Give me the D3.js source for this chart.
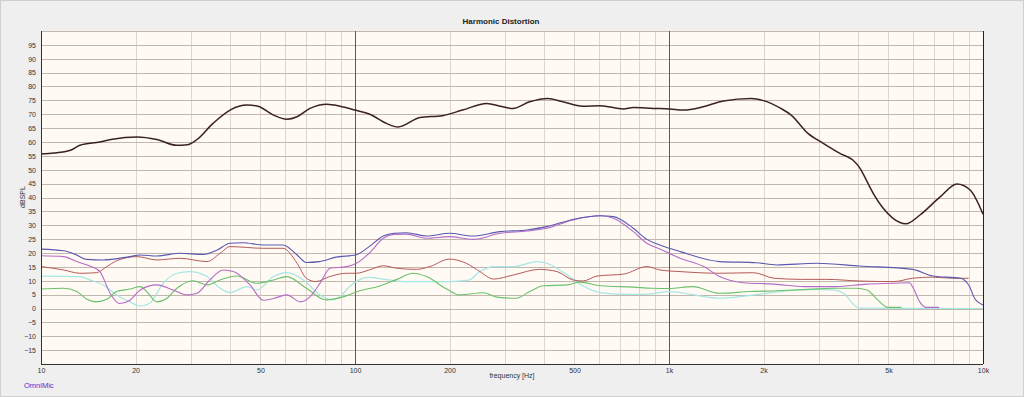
<!DOCTYPE html>
<html>
<head>
<meta charset="utf-8">
<script src="https://cdn.jsdelivr.net/npm/d3@7"></script>
<style>
  body { margin: 0; background: #efefef; }
  svg { display: block; font-family: "Liberation Sans", "DejaVu Sans", sans-serif; }
</style>
</head>
<body>
<svg width="1024" height="397"></svg>
<script>
// values: [frequency Hz, dBSPL]
const fundamental = [[10,55.7],[11,56],[12.4,57],[13.3,58.8],[15.4,60],[16.9,61],[20.2,61.8],[23.4,60.9],[27.1,58.8],[29.2,59],[31.4,60.9],[35.3,66.7],[40,71.5],[45.3,73.3],[48.8,73],[55,69.7],[60.7,68.2],[65.4,69.1],[71.9,72.1],[81.4,73.6],[89.6,72.9],[100,71.5],[111.5,70],[126,66.7],[137,65.4],[161,68.8],[190,69.5],[220,71.5],[263,73.9],[290,72.9],[318,72.1],[360,74.5],[411,75.7],[459,74.5],[531,72.9],[605,73.1],[715,71.9],[770,72.4],[890,72.1],[1005,71.9],[1110,71.5],[1285,72.7],[1490,74.8],[1830,75.7],[2000,74.9],[2270,72.1],[2450,69.7],[2770,63.1],[3100,59.5],[3500,55.9],[3850,53.5],[4060,50.5],[4275,45.7],[4470,41.5],[4810,36.1],[5170,32.5],[5680,30.5],[6300,33.7],[7300,40.2],[8260,44.9],[9100,42.7],[10000,34]]

const thd = [[10,21.4],[11.8,20.8],[12.8,19.6],[14,17.7],[15.8,17.5],[19.2,18.7],[20.7,19.3],[23.4,18.9],[27.7,19.9],[32.8,19.5],[36.4,21.1],[40,23.5],[44,23.7],[51,22.9],[59,22.9],[65.4,19.3],[70,16.6],[77,16.9],[87,18.5],[101,19.4],[111,22.3],[123,26.1],[133,27.1],[146,27.3],[169,26.1],[200,27.1],[237,26.1],[290,27.7],[353,28.3],[408,29.5],[494,32.1],[605,33.4],[665,33.1],[770,28.9],[850,24.9],[935,22.9],[1085,20.5],[1450,16.9],[1900,16.5],[2200,15.7],[2950,16.3],[4050,15.3],[5960,14.1],[6920,11.7],[8480,10.9],[9060,7.9],[9400,3.7],[10000,1.3]]

const h2 = [[10,19],[11.8,18.7],[13,16.9],[14.3,15.3],[15.4,13.3],[16.6,5.5],[17.8,1.8],[19.2,3],[20.7,6.7],[23.4,8.5],[26.3,6.7],[29.2,4.9],[31.4,5.5],[34.5,10.3],[38,13.9],[41,13.3],[46.3,8.5],[51,3],[55,3.6],[60.7,4.9],[67,2.4],[72,4.3],[77.4,9.1],[83.3,14.5],[94,15.1],[101,16.3],[111,19.9],[123,25.3],[133,26.7],[146,26.8],[169,25.3],[200,25.9],[237,24.9],[290,27.1],[353,27.9],[408,28.9],[494,31.9],[605,33.4],[665,32.5],[770,27.7],[850,23.5],[935,21.4],[1085,18.1],[1290,15.1],[1450,11.5],[1720,9.3],[2160,8.8],[2700,7.9],[3400,7.9],[4270,8.8],[5200,9.1],[5830,9.3],[6000,7.3],[6290,2.4],[6600,0.4],[7250,0.4]]

const h3 = [[10,15.1],[11.8,13.9],[13.3,12.7],[15,12.9],[16.2,15.1],[17.4,17.2],[20.2,18.7],[23.4,17.5],[27.7,18.1],[33.8,16.9],[37.2,19.9],[40,22.3],[51,21.7],[59,21.7],[65.4,16.3],[70,10.9],[75,9.7],[83,11.5],[94,12.7],[101,12.7],[111,13.9],[123,15.4],[136,14.5],[157,14.1],[173,15.1],[200,17.8],[226,16.3],[250,13.3],[276,10.6],[320,12.1],[387,14.1],[440,13.3],[494,10.3],[532,9.9],[590,11.7],[718,12.4],[850,15.1],[935,13.9],[1085,13.3],[1450,12.7],[1860,12.9],[2160,10.9],[2640,10.5],[3170,10.5],[4050,9.9],[5200,9.7],[5960,10.9],[6900,11.3],[8000,10.9],[9000,10.9]]

const h4 = [[10,11.7],[13.3,11.5],[14.3,10.3],[15.8,8.5],[17.4,4.9],[19.2,2.4],[20.7,0.9],[22.2,1.9],[24.5,9.1],[27.1,12.7],[29.8,13.3],[33.8,11.5],[37.2,7.3],[40,5.7],[45.3,7.9],[48.8,6.7],[55,11.5],[60.7,12.9],[68.5,10.3],[77.4,4.9],[85,3.1],[90,4.5],[96,7.9],[111,11.2],[123,10.6],[146,9.7],[200,9.7],[230,10.2],[250,13.3],[276,15.1],[320,15.1],[380,16.9],[408,16.3],[474,12.1],[520,8.8],[605,5.7],[718,5.1],[850,5.1],[1000,6.1],[1450,3.7],[1950,5.2],[2800,6.9],[3340,6.7],[3600,5.5],[3920,0.9],[4050,0.1],[10000,0]]

const h5 = [[10,7],[11.8,7.3],[13,6.1],[14,3.3],[15,2.4],[16.2,3.3],[17.4,6.1],[19.2,7],[20.7,7.9],[21.7,6.1],[23.4,2.4],[25.2,3.7],[27.1,7.3],[30.5,10],[33.8,8.5],[37.2,10.3],[42,11.7],[48.8,9.1],[55,10.3],[60.7,11.5],[70,7.3],[81,3.1],[91,4.1],[103.5,6.4],[120,8.1],[136,10.5],[153,12.7],[169,11.5],[196,7],[215,4.9],[257,5.7],[283,4.1],[326,3.7],[360,6.1],[398,8.2],[474,8.5],[520,9.5],[605,8.2],[770,7.7],[880,7.3],[1000,7.2],[1190,7.9],[1450,5.5],[1810,6.1],[2200,6.4],[2800,6.9],[3340,7.3],[3950,7.3],[4270,6.7],[4620,3.1],[4980,0.4],[5500,0.4]]

const xTickValues = [10, 20, 50, 100, 200, 500, 1000, 2000, 5000, 10000]
const xTickLabels = ['10', '20', '50', '100', '200', '500', '1k', '2k', '5k', '10k']
const yTickValues = d3.range(-15, 100, 5)

const svg = d3.select('svg')
const width = +svg.attr('width')
const height = +svg.attr('height')
const margin = {top: 31, right: 41, bottom: 33, left: 41}
const innerWidth = width - margin.left - margin.right
const innerHeight = height - margin.top - margin.bottom

svg.append('rect')
  .attr('x', 0.5).attr('y', 0.5)
  .attr('width', width - 1).attr('height', height - 1)
  .attr('fill', '#efefef')
  .attr('stroke', '#cfcfcf')

const x = d3.scaleLog().domain([10, 10000]).range([0, innerWidth])
const y = d3.scaleLinear().domain([-20, 100]).range([innerHeight, 0])

const g = svg.append('g')
  .attr('transform', `translate(${margin.left}, ${margin.top})`)

g.append('rect')
  .attr('width', innerWidth)
  .attr('height', innerHeight)
  .attr('fill', '#fffaf3')

// minor vertical grid (2..9 in every decade)
const minor = []
for (const dec of [10, 100, 1000]) {
  for (let k = 2; k <= 9; k++) minor.push(dec * k)
}
g.selectAll('.vminor')
  .data(minor)
  .join('line')
  .attr('x1', d => Math.round(x(d)) + 0.5)
  .attr('x2', d => Math.round(x(d)) + 0.5)
  .attr('y1', 0)
  .attr('y2', innerHeight)
  .attr('stroke', '#dcd6cf')
  .attr('stroke-width', 1)

// horizontal grid
g.selectAll('.hgrid')
  .data(d3.range(-15, 101, 5))
  .join('line')
  .attr('x1', 0)
  .attr('x2', innerWidth)
  .attr('y1', d => Math.round(y(d)) + 0.5)
  .attr('y2', d => Math.round(y(d)) + 0.5)
  .attr('stroke', '#c2b7ae')
  .attr('stroke-width', 1)

// decade lines
g.selectAll('.vmajor')
  .data([100, 1000])
  .join('line')
  .attr('x1', d => Math.round(x(d)) + 0.5)
  .attr('x2', d => Math.round(x(d)) + 0.5)
  .attr('y1', 0)
  .attr('y2', innerHeight)
  .attr('stroke', '#5a5a5a')
  .attr('stroke-width', 1)

const line = d3.line()
  .x(d => x(d[0]))
  .y(d => y(d[1]))
  .curve(d3.curveMonotoneX)

const series = [
  {data: h4, color: '#a6e6e4', w: 1.2},
  {data: h5, color: '#6cc16c', w: 1.1},
  {data: h3, color: '#b55a5a', w: 1},
  {data: h2, color: '#b46cc6', w: 1.1},
  {data: thd, color: '#5a58b0', w: 1.1},
  {data: fundamental, color: '#3b2222', w: 1.5}
]

g.selectAll('.curve')
  .data(series)
  .join('path')
  .attr('d', d => line(d.data))
  .attr('fill', 'none')
  .attr('stroke', d => d.color)
  .attr('stroke-width', d => d.w)
  .attr('stroke-linejoin', 'round')

// axes frame
g.append('line')
  .attr('x1', 0.5).attr('x2', 0.5).attr('y1', 0).attr('y2', innerHeight)
  .attr('stroke', '#333')
g.append('line')
  .attr('x1', innerWidth + 0.5).attr('x2', innerWidth + 0.5).attr('y1', 0).attr('y2', innerHeight)
  .attr('stroke', '#222')
g.append('line')
  .attr('x1', 0).attr('x2', innerWidth).attr('y1', innerHeight + 0.5).attr('y2', innerHeight + 0.5)
  .attr('stroke', '#333')

const xAxis = d3.axisBottom(x)
  .tickValues(xTickValues)
  .tickFormat((d, i) => xTickLabels[i])
  .tickSize(0)
  .tickPadding(4)
const xg = g.append('g')
  .attr('transform', `translate(0, ${innerHeight})`)
  .call(xAxis)
xg.select('.domain').remove()
xg.selectAll('text')
  .attr('font-size', 7)
  .attr('fill', '#333')
  .attr('font-family', '"Liberation Sans", sans-serif')

const yAxis = d3.axisLeft(y)
  .tickValues(yTickValues)
  .tickSize(0)
  .tickPadding(5)
const yg = g.append('g').call(yAxis)
yg.select('.domain').remove()
yg.selectAll('text')
  .attr('font-size', 7)
  .attr('fill', '#333')
  .attr('font-family', '"Liberation Sans", sans-serif')

svg.append('text')
  .attr('x', margin.left + innerWidth / 2 - 11)
  .attr('y', 24)
  .attr('text-anchor', 'middle')
  .attr('font-size', 8)
  .attr('font-weight', 'bold')
  .attr('fill', '#222')
  .text('Harmonic Distortion')

svg.append('text')
  .attr('x', margin.left + innerWidth / 2)
  .attr('y', 378)
  .attr('text-anchor', 'middle')
  .attr('font-size', 7)
  .attr('fill', '#333')
  .text('frequency [Hz]')

svg.append('text')
  .attr('transform', 'translate(25, 197) rotate(-90)')
  .attr('text-anchor', 'middle')
  .attr('font-size', 7)
  .attr('fill', '#333')
  .text('dBSPL')

svg.append('text')
  .attr('x', 24)
  .attr('y', 388)
  .attr('font-size', 7.5)
  .attr('fill', '#3a3ad0')
  .text('OmniMic')
</script>
</body>
</html>
